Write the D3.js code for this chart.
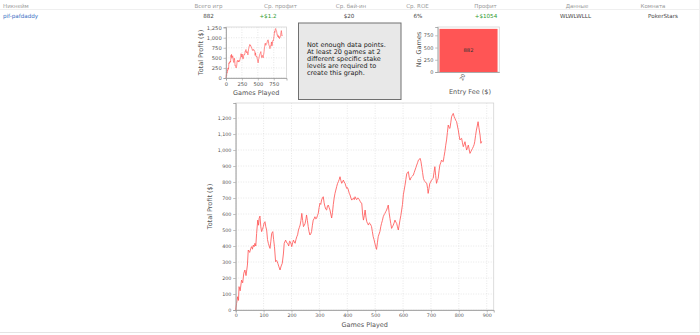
<!DOCTYPE html>
<html><head><meta charset="utf-8">
<script src="https://cdn.jsdelivr.net/npm/d3@7"></script>
<style>
body{margin:0;background:#fff;}
svg{display:block;font-family:"DejaVu Sans",sans-serif;}
</style>
</head><body>
<svg id="c" width="700" height="335"></svg>
<script>
// ---------- data ----------
const headerLabels = ["Никнейм","Всего игр","Ср. профит","Ср. бай-ин","Ср. ROE","Профит","Данные","Комната"];
const rowCells = ["pif-pafdaddy","882","+$1.2","$20","6%","+$1054","WLWLWLLL","PokerStars"];
const noDataLines = ["Not enough data points.","At least 20 games at 2","different specific stake","levels are required to","create this graph."];

const games = [0,3,7,10,12,16,21,25,29,33,37,42,45,50,54,57,60,63,66,69,72,75,79,82,84,87,90,93,96,99,
102,105,108,111,114,117,120,123,126,129,133,136,139,143,147,151,155,159,163,167,171,174,179,183,186,190,193,196,199,
201,204,207,210,213,216,219,222,225,228,231,234,237,240,243,246,249,252,254,257,260,263,266,269,272,275,278,281,284,287,290,293,296,299,
302,305,308,311,314,317,320,323,326,329,332,335,338,341,344,347,350,353,356,359,362,365,368,371,374,377,380,383,386,389,392,395,398,
401,404,407,410,413,416,419,422,425,428,431,434,437,440,443,446,449,452,455,458,461,464,467,470,473,476,479,482,485,487,490,493,496,499,
502,505,508,511,514,517,520,523,526,529,532,535,538,541,544,547,550,553,556,559,562,565,568,571,574,577,580,583,586,589,592,595,598,
601,604,607,610,613,616,619,622,625,628,631,634,637,640,643,646,649,652,655,658,661,664,667,670,673,676,679,682,685,688,690,693,696,699,
702,705,708,711,714,717,720,723,726,729,732,735,738,741,744,747,750,753,756,759,762,765,768,771,774,777,780,783,786,789,792,795,798,
801,804,807,810,813,816,819,822,825,828,831,834,837,840,843,846,849,852,855,857,860,863,866,869,872,876,879,882];
const profit = [0,40,83,60,146,120,187,170,230,250,215,281,375,360,385,396,380,406,395,417,400,479,562,530,573,587,520,490,505,521,
545,552,520,500,440,417,400,385,430,479,490,440,396,302,310,292,270,250,275,292,350,417,437,420,417,400,430,427,410,
396,420,437,425,417,440,458,470,500,515,531,560,604,560,521,530,542,570,594,560,521,490,469,475,490,530,562,570,583,570,573,590,604,640,
667,660,688,700,708,670,646,630,625,650,656,640,625,600,575,610,660,700,729,750,771,790,802,815,833,810,792,800,812,800,792,775,760,
765,750,730,719,700,687,695,700,690,708,695,690,700,698,690,680,670,667,600,562,590,625,580,552,540,531,545,540,530,521,490,458,440,417,
395,379,420,458,475,490,520,542,560,583,595,604,615,625,640,656,610,573,540,510,520,531,545,562,550,542,520,500,530,562,590,625,660,
720,750,780,815,850,860,865,830,812,825,833,838,844,860,875,890,906,920,937,940,948,930,896,860,823,810,802,795,792,760,729,760,792,800,
812,818,823,860,896,840,792,810,823,870,906,920,937,930,927,960,990,1030,1063,1110,1156,1140,1135,1170,1208,1220,1229,1210,1198,1185,1177,1150,1125,
1090,1063,1070,1073,1045,1021,1035,1052,1025,1000,1015,1031,1005,979,990,1000,1010,1021,1035,1052,1090,1125,1150,1177,1140,1094,1042,1054];

const mainXTicks = [0,100,200,300,400,500,600,700,800,900];
const mainYTicks = [0,100,200,300,400,500,600,700,800,900,1000,1100,1200];
const smallXTicks = [0,250,500,750];
const smallYTicks = [0,250,500,750,1000,1250];
const feeCategories = ["20"];
const feeCounts = [882];
const barYTicks = [0,250,500,750];

// ---------- drawing ----------
const svg = d3.select("#c");
const fmt = d3.format(",");
const lineColor = "#ff5959";
const textColor = "#555";

// header table
const colHeadX = [3,208.5,280.5,351,417.5,485.5,577,653];
const colRowX  = [3,208.5,268,349,418,486,575.5,663];
const rowColors = ["#3a6fc4","#444","#2e9a2e","#444","#444","#2e9a2e","#444","#444"];
svg.append("line").attr("x1",0).attr("x2",700).attr("y1",9.5).attr("y2",9.5).attr("stroke","#efefef");
headerLabels.forEach((t,i)=>{
  svg.append("text").attr("x",colHeadX[i]).attr("y",7.5)
    .attr("text-anchor", i===0?"start":"middle").attr("font-size",5.5).attr("fill","#999").text(t);
});
rowCells.forEach((t,i)=>{
  svg.append("text").attr("x",colRowX[i]).attr("y",17.8)
    .attr("text-anchor", i===0?"start":"middle").attr("font-size",5.6).attr("fill",rowColors[i]).text(t);
});
svg.append("line").attr("x1",0).attr("x2",700).attr("y1",332.5).attr("y2",332.5).attr("stroke","#e4e4e4");
svg.append("line").attr("x1",699.5).attr("x2",699.5).attr("y1",0).attr("y2",333).attr("stroke","#f0f0f0");

function styleAxis(g, fs){
  g.selectAll("path.domain").attr("stroke","#999").attr("stroke-width",0.8);
  g.selectAll(".tick line").attr("stroke","#999").attr("stroke-width",0.6);
  g.selectAll(".tick text").attr("font-size",fs).attr("fill",textColor).attr("font-family","DejaVu Sans");
}

// profit chart drawer
function profitChart(o){
  const x = d3.scaleLinear().domain([0,o.xMax]).range([o.l,o.r]);
  const y = d3.scaleLinear().domain([0,o.yMax]).range([o.b,o.t]);
  const g = svg.append("g");
  g.append("rect").attr("x",o.l).attr("y",o.t).attr("width",o.r-o.l).attr("height",o.b-o.t)
    .attr("fill","#fff").attr("stroke","#d4d4d4").attr("stroke-width",0.8);
  g.selectAll(".gx").data(o.xt).join("line").attr("x1",d=>x(d)).attr("x2",d=>x(d))
    .attr("y1",o.t).attr("y2",o.b).attr("stroke","#d8d8d8").attr("stroke-width",0.6).attr("stroke-dasharray","1,1.5");
  g.selectAll(".gy").data(o.yt).join("line").attr("x1",o.l).attr("x2",o.r)
    .attr("y1",d=>y(d)).attr("y2",d=>y(d)).attr("stroke","#d8d8d8").attr("stroke-width",0.6).attr("stroke-dasharray","1,1.5");
  const line = d3.line().x((d,i)=>x(games[i])).y(d=>y(d));
  g.append("path").datum(profit).attr("d",line).attr("fill","none")
    .attr("stroke",lineColor).attr("stroke-width",o.sw).attr("stroke-linejoin","round");
  const ax = g.append("g").attr("transform",`translate(0,${o.b})`)
    .call(d3.axisBottom(x).tickValues(o.xt).tickFormat(fmt).tickSize(2.5).tickPadding(1.5));
  styleAxis(ax,o.fs);
  const ay = g.append("g").attr("transform",`translate(${o.l},0)`)
    .call(d3.axisLeft(y).tickValues(o.yt).tickFormat(fmt).tickSize(2.5).tickPadding(1.8));
  styleAxis(ay,o.fs);
  g.append("text").attr("x",(o.l+o.r)/2).attr("y",o.xTitleY).attr("text-anchor","middle")
    .attr("font-size",6.5).attr("fill",textColor).text("Games Played");
  g.append("text").attr("transform",`translate(${o.yTitleX},${(o.t+o.b)/2}) rotate(-90)`)
    .attr("text-anchor","middle").attr("font-size",6.5).attr("fill",textColor).text("Total Profit ($)");
}

profitChart({l:226,r:286.5,t:27,b:78,xMax:950,yMax:1267,xt:smallXTicks,yt:smallYTicks,
  fs:5.2,sw:0.7,xTitleY:95,yTitleX:203});
profitChart({l:235.7,r:493.7,t:103,b:310,xMax:925,yMax:1294,xt:mainXTicks,yt:mainYTicks,
  fs:4.8,sw:0.85,xTitleY:326.5,yTitleX:212});

// no-data box
svg.append("rect").attr("x",298.5).attr("y",23).attr("width",102.5).attr("height",76.5)
  .attr("fill","#e8e8e8").attr("stroke","#707070").attr("stroke-width",1);
svg.selectAll(".nd").data(noDataLines).join("text").attr("x",307).attr("y",(d,i)=>47.3+i*7)
  .attr("font-size",6.5).attr("fill","#222").text(d=>d);

// entry fee bar chart
{
  const l=437.7,r=499.3,t=27,b=72;
  const x = d3.scaleBand().domain(feeCategories).range([l,r]).paddingInner(0).paddingOuter(0.03);
  const y = d3.scaleLinear().domain([0,920]).range([b,t]);
  const g = svg.append("g");
  g.append("rect").attr("x",l).attr("y",t).attr("width",r-l).attr("height",b-t)
    .attr("fill","#fff").attr("stroke","#d4d4d4").attr("stroke-width",0.8);
  g.selectAll(".bar").data(feeCounts).join("rect")
    .attr("x",(d,i)=>x(feeCategories[i])).attr("width",x.bandwidth())
    .attr("y",d=>y(d)).attr("height",d=>b-y(d)).attr("fill","#ff5555");
  g.selectAll(".bl").data(feeCounts).join("text")
    .attr("x",(d,i)=>x(feeCategories[i])+x.bandwidth()/2).attr("y",d=>(y(d)+b)/2+1.8)
    .attr("text-anchor","middle").attr("font-size",5.2).attr("fill","#333").text(d=>d);
  const ay = g.append("g").attr("transform",`translate(${l},0)`)
    .call(d3.axisLeft(y).tickValues(barYTicks).tickSize(2.5).tickPadding(1.8));
  styleAxis(ay,5);
  const ax = g.append("g").attr("transform",`translate(0,${b})`)
    .call(d3.axisBottom(x).tickSize(0).tickPadding(0));
  styleAxis(ax,5.2);
  ax.selectAll(".tick text").attr("text-anchor","end").attr("dy",0)
    .attr("transform","translate(-3,3) rotate(-65)");
  g.append("text").attr("transform",`translate(421,${(t+b)/2}) rotate(-90)`)
    .attr("text-anchor","middle").attr("font-size",6.5).attr("fill",textColor).text("No. Games");
  g.append("text").attr("x",470).attr("y",93.5).attr("text-anchor","middle")
    .attr("font-size",6.5).attr("fill",textColor).text("Entry Fee ($)");
}
</script>
</body></html>
